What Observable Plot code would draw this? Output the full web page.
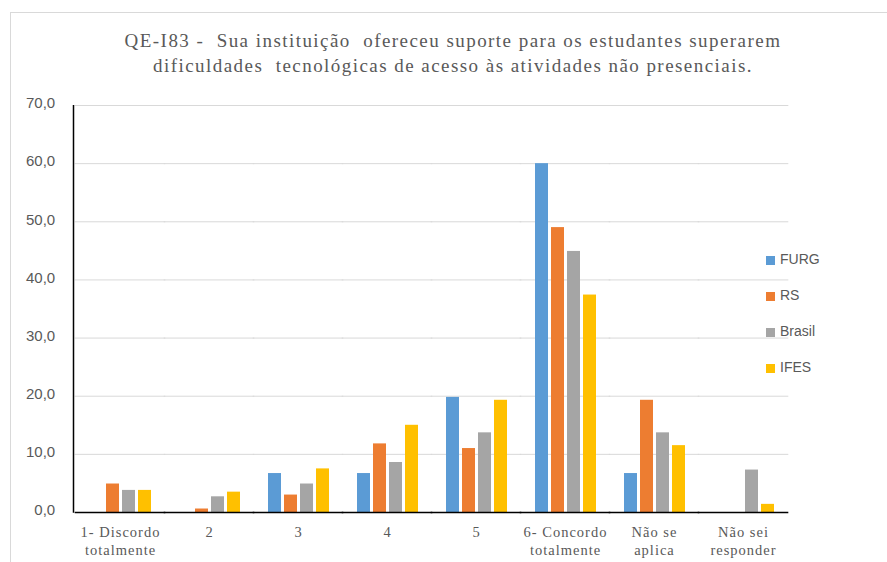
<!DOCTYPE html>
<html>
<head>
<meta charset="utf-8">
<script src="https://cdn.jsdelivr.net/npm/d3@7"></script>
<script src="https://cdn.jsdelivr.net/npm/@observablehq/plot@0.6"></script>
<style>
  html, body { margin: 0; padding: 0; background: #fff; }
  #wrap { position: relative; width: 887px; height: 562px; overflow: hidden; }
  #border { position: absolute; left: 10px; top: 12px; width: 890px; height: 560px; border: 1px solid #d9d9d9; box-sizing: border-box; }
  #title { position: absolute; left: 0; top: 29px; width: 906px; text-align: center; font-family: "Liberation Serif", serif; font-size: 19px; letter-spacing: 1.45px; line-height: 24.5px; color: #595959; white-space: pre; }
  #chart { position: absolute; left: 0; top: 90px; }
  #chart [aria-label="fx-axis tick label"] text { letter-spacing: 1px; }
  #legend { position: absolute; left: 766px; top: 251px; font-family: "Liberation Sans", sans-serif; font-size: 14px; color: #595959; }
  .item { height: 36px; display: flex; align-items: flex-start; }
  .sw { width: 9px; height: 9px; margin-top: 5px; margin-right: 5px; }
</style>
</head>
<body>
<div id="wrap">
  <div id="border"></div>
  <div id="title">QE-I83 -  Sua instituição  ofereceu suporte para os estudantes superarem
dificuldades  tecnológicas de acesso às atividades não presenciais.</div>
  <div id="chart"></div>
  <div id="legend"></div>
</div>
<script>
const cats = ["1- Discordo\ntotalmente", "2", "3", "4", "5", "6- Concordo\ntotalmente", "Não se\naplica", "Não sei\nresponder"];
const series = ["FURG", "RS", "Brasil", "IFES"];
const furg   = [0,   0,   6.7, 6.7,  19.8, 60.0, 6.7,  0];
const rs     = [4.9, 0.6, 3.0, 11.8, 11.0, 49.0, 19.3, 0];
const brasil = [3.8, 2.7, 4.9, 8.6,  13.7, 44.9, 13.7, 7.3];
const ifes   = [3.8, 3.5, 7.5, 15.0, 19.3, 37.4, 11.5, 1.4];
const colors = ["#5B9BD5", "#ED7D31", "#A5A5A5", "#FFC000"];
const yTicks = [0, 10, 20, 30, 40, 50, 60, 70];

const values = [furg, rs, brasil, ifes];
const table = [];
cats.forEach((c, i) => series.forEach((s, j) => table.push({cat: c, series: s, value: values[j][i]})));

const W = 800, H = 470, mL = 73, mR = 10, mT = 15, mB = 48;
const pInner = 0.286;
const step = (W - mL - mR) / cats.length;
const half = pInner * step / 2;
const span = {insetLeft: -half - 0.5, insetRight: -half - 0.5};

const svg = Plot.plot({
  width: W, height: H,
  marginLeft: mL, marginRight: mR, marginTop: mT, marginBottom: mB,
  style: {background: "transparent", fontFamily: "Liberation Sans, sans-serif"},
  fx: {domain: cats, paddingInner: pInner, paddingOuter: pInner / 2, label: null},
  x: {domain: series, paddingInner: 0.2, paddingOuter: 0, axis: null},
  y: {domain: [0, 70], axis: null},
  color: {domain: series, range: colors},
  marks: [
    Plot.ruleY(yTicks.slice(1), {stroke: "#d9d9d9", strokeWidth: 1, ...span}),
    Plot.barY(table, {fx: "cat", x: "series", y: "value", fill: "series"}),
    Plot.ruleY([0], {stroke: "#000", strokeWidth: 1.5, ...span}),
    Plot.axisY({ticks: yTicks, tickSize: 0, tickPadding: half + 20.5, label: null, dy: -2,
      tickFormat: d => d.toFixed(1).replace(".", ","), fontSize: 15, fill: "#595959"}),
    Plot.axisFx({anchor: "bottom", tickSize: 0, tickPadding: 12, label: null,
      fontSize: 14.5, fontFamily: "Liberation Serif, serif", fill: "#595959", lineHeight: 1.25})
  ]
});

// left axis line at the start of the fx range
const fxr = svg.scale("fx").range;
const ys = svg.scale("y");
d3.select(svg).append("line")
  .attr("x1", fxr[0] + 0.5).attr("x2", fxr[0] + 0.5)
  .attr("y1", ys.apply(70)).attr("y2", ys.apply(0) + 0.75)
  .attr("stroke", "#000").attr("stroke-width", 1.5);

document.getElementById("chart").appendChild(svg);

const legend = document.getElementById("legend");
series.forEach((s, i) => {
  const it = document.createElement("div");
  it.className = "item";
  it.innerHTML = `<div class="sw" style="background:${colors[i]}"></div><span>${s}</span>`;
  legend.appendChild(it);
});
</script>
</body>
</html>
